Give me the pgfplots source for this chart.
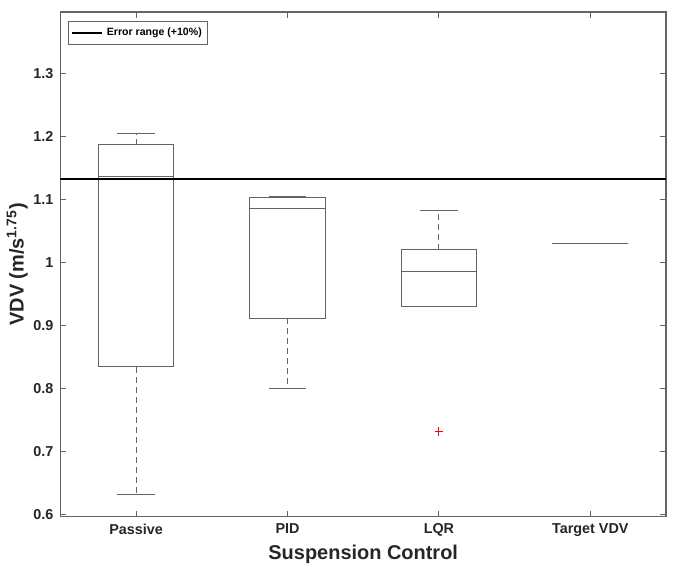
\documentclass[border=0pt]{standalone}
\usepackage{pgfplots}
\pgfplotsset{compat=1.18}
\usepgfplotslibrary{statistics}
\usepackage{fontspec}
\setmainfont{Liberation Sans}
\definecolor{axgray}{RGB}{100,100,100}
\definecolor{boxgray}{RGB}{100,100,100}
\definecolor{txt}{RGB}{38,38,38}
\definecolor{outred}{RGB}{255,0,0}
\begin{document}
\begin{tikzpicture}
\begin{axis}[
  scale only axis,
  width=303.5pt, height=253pt,
  xmin=0.5, xmax=4.5, ymin=0.597, ymax=1.398,
  xtick={1,2,3,4},
  xticklabels={Passive,PID,LQR,Target VDV},
  ytick={0.6,0.7,0.8,0.9,1,1.1,1.2,1.3},
  yticklabels={0.6,0.7,0.8,0.9,1,1.1,1.2,1.3},
  tick align=inside,
  major tick length=3pt,
  axis line style={axgray, line width=0.6pt},
  every tick/.style={axgray, line width=0.5pt},
  ticklabel style={font=\bfseries\fontsize{7.2}{8}\selectfont, text=txt},
  /pgf/number format/assume math mode=true,
  xlabel={Suspension Control},
  ylabel={VDV (m/s\textsuperscript{1.75})},
  xlabel style={font=\bfseries\fontsize{10}{12}\selectfont, text=txt, yshift=3pt},
  ylabel style={font=\bfseries\fontsize{10}{12}\selectfont, text=txt, yshift=-4pt},
  legend style={at={(0.013,0.982)}, anchor=north west, draw=axgray, line width=0.5pt,
     font=\bfseries\fontsize{5.3}{6}\selectfont, inner sep=1pt, row sep=0pt},
  legend cell align=left,
  legend image code/.code={\draw[#1] (0pt,0pt) -- (15pt,0pt);},
  boxplot/draw direction=y,
  boxplot/every box/.style={draw=boxgray, line width=0.5pt},
  boxplot/every median/.style={draw=boxgray, line width=0.5pt},
  boxplot/draw/lower whisker/.code={
    \draw[boxgray, line width=0.5pt, dash pattern=on 3pt off 2pt]
      (boxplot box cs:\pgfplotsboxplotvalue{lower quartile},0.5) --
      (boxplot box cs:\pgfplotsboxplotvalue{lower whisker},0.5);
    \draw[boxgray, line width=0.5pt]
      (boxplot whisker cs:\pgfplotsboxplotvalue{lower whisker},0) --
      (boxplot whisker cs:\pgfplotsboxplotvalue{lower whisker},1);
  },
  boxplot/draw/upper whisker/.code={
    \draw[boxgray, line width=0.5pt, dash pattern=on 3pt off 2pt]
      (boxplot box cs:\pgfplotsboxplotvalue{upper quartile},0.5) --
      (boxplot box cs:\pgfplotsboxplotvalue{upper whisker},0.5);
    \draw[boxgray, line width=0.5pt]
      (boxplot whisker cs:\pgfplotsboxplotvalue{upper whisker},0) --
      (boxplot whisker cs:\pgfplotsboxplotvalue{upper whisker},1);
  },
]
\addplot[forget plot, boxgray, mark=none, boxplot prepared={draw position=1,
  lower whisker=0.632, lower quartile=0.835, median=1.137,
  upper quartile=1.187, upper whisker=1.205, box extend=0.5, whisker extend=0.25}] coordinates {};
\addplot[forget plot, boxgray, mark=none, boxplot prepared={draw position=2,
  lower whisker=0.800, lower quartile=0.912, median=1.087,
  upper quartile=1.104, upper whisker=1.105, box extend=0.5, whisker extend=0.25}] coordinates {};
\addplot[forget plot, boxgray, mark=none,
  boxplot prepared={draw position=3,
  lower whisker=0.9305, lower quartile=0.9305, median=0.986,
  upper quartile=1.021, upper whisker=1.0835, box extend=0.5, whisker extend=0.25}] coordinates {};
\addplot[forget plot, boxgray, mark=none, boxplot prepared={draw position=4,
  lower whisker=1.031, lower quartile=1.031, median=1.031,
  upper quartile=1.031, upper whisker=1.031, box extend=0.5, whisker extend=0.25}] coordinates {};
\addplot[black, line width=1.1pt, mark=none] coordinates {(0.5,1.1333) (4.5,1.1333)};
\addlegendentry{Error range (+10\%)}
\addplot[forget plot, only marks, mark=+, mark size=2.2pt, draw=outred, color=outred,
  mark options={draw=outred, solid, line width=0.5pt}]
  coordinates {(3,0.7326)};
\end{axis}
\path ([xshift=-29.5pt,yshift=-28.5pt]current axis.south west) rectangle ([xshift=6pt,yshift=6pt]current axis.north east);
\end{tikzpicture}
\end{document}
